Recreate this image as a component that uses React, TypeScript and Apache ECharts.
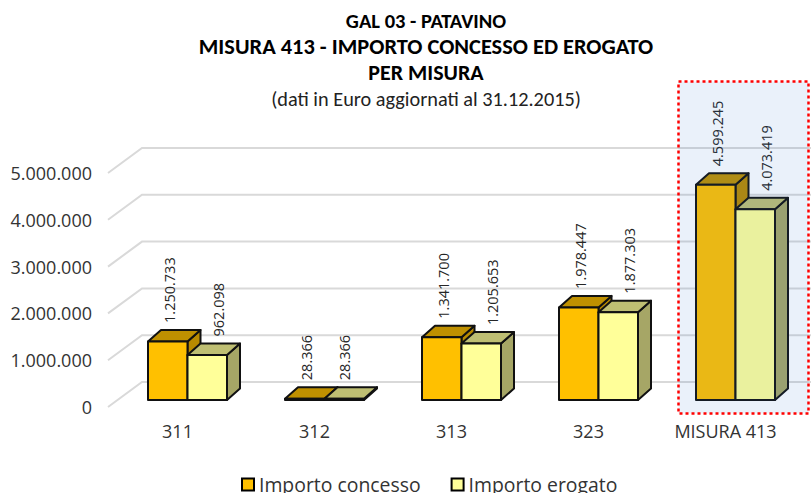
import React, { useEffect, useRef } from "react";
import * as echarts from "echarts";

const categories = ["311", "312", "313", "323", "MISURA 413"];
const concesso = [1250733, 28366, 1341700, 1978447, 4599245];
const erogato = [962098, 28366, 1205653, 1877303, 4073419];
const yTicks = [0, 1000000, 2000000, 3000000, 4000000, 5000000];
const titleLines = ["GAL 03 - PATAVINO", "MISURA 413 - IMPORTO CONCESSO ED EROGATO", "PER MISURA"];
const subtitle = "(dati in Euro aggiornati al 31.12.2015)";
const seriesNames = ["Importo concesso", "Importo erogato"];

const fmt = (v: number) => String(v).replace(/\B(?=(\d{3})+(?!\d))/g, ".");
const SANS = "'Open Sans', sans-serif";
const TITLE = "Carlito, Lato, sans-serif";
const BAR_W = 39.5;
const DX = 13;
const DY = 11.5;
const SHIFT = 10;

const barSeries = (name: string, data: number[], idx: number, front: string, top: string, side: string) => ({
  type: "custom",
  name,
  z: 5,
  itemStyle: { color: front },
  data: data.map((v, i) => [i, v]),
  encode: { x: 0, y: 1 },
  clip: false,
  renderItem: (_p: any, api: any) => {
    const v = api.value(1);
    const [cx, yt] = api.coord([api.value(0), v]);
    const [, y0] = api.coord([api.value(0), 0]);
    const xc = cx + SHIFT;
    const xl = xc + (idx === 0 ? -BAR_W : 0);
    const xr = xl + BAR_W;
    const line = { stroke: "#111", lineWidth: 2, lineJoin: "round" };
    const labelX = xl + BAR_W / 2 + (idx === 1 && v > 100000 ? 11 : 0) + (idx === 0 ? 2 : 0);
    return {
      type: "group",
      children: [
        { type: "polygon", shape: { points: [[xr, yt], [xr + DX, yt - DY], [xr + DX, y0 - DY], [xr, y0]] }, style: { fill: side, ...line } },
        { type: "polygon", shape: { points: [[xl, yt], [xl + DX, yt - DY], [xr + DX, yt - DY], [xr, yt]] }, style: { fill: top, ...line } },
        { type: "rect", shape: { x: xl, y: yt, width: BAR_W, height: y0 - yt }, style: { fill: front, ...line } },
        {
          type: "text",
          x: labelX,
          y: yt - DY - 7,
          rotation: Math.PI / 2,
          style: { text: fmt(v), fontFamily: SANS, fontSize: 14.5, fill: "#262626", textAlign: "left", textVerticalAlign: "middle" },
        },
      ],
    };
  },
});

export default function App() {
  const ref = useRef<HTMLDivElement>(null);
  useEffect(() => {
    const chart = echarts.init(ref.current!, undefined, { renderer: "svg" });
    const titleStyle = { fontFamily: TITLE, fontWeight: "bold" as const, color: "#000" };
    chart.setOption({
      animation: false,
      backgroundColor: "#fff",
      title: [
        { text: titleLines[0], left: 421, top: 5, textAlign: "center", padding: 5, textStyle: { ...titleStyle, fontSize: 20.5 } },
        { text: titleLines[1], left: 421, top: 30, textAlign: "center", padding: 5, textStyle: { ...titleStyle, fontSize: 22.4 } },
        { text: titleLines[2], left: 421, top: 56, textAlign: "center", padding: 5, textStyle: { ...titleStyle, fontSize: 22 } },
        { text: subtitle, left: 421, top: 84, textAlign: "center", padding: 5, textStyle: { fontFamily: TITLE, fontWeight: "normal", color: "#222", fontSize: 20.3 } },
      ],
      grid: { left: 109, top: 166, width: 685, height: 234 },
      xAxis: {
        type: "category",
        data: categories,
        axisLine: { show: false },
        axisTick: { show: false },
        axisLabel: { margin: 22, fontFamily: SANS, fontSize: 18, color: "#333" },
      },
      yAxis: {
        type: "value",
        min: 0,
        max: 5000000,
        interval: 1000000,
        splitLine: { show: false },
        axisLine: { show: false },
        axisTick: { show: false },
        axisLabel: {
          margin: 17,
          fontFamily: SANS,
          fontSize: 18,
          color: "#333",
          verticalAlign: "top",
          lineHeight: 14,
          formatter: (v: number) => fmt(v),
        },
      },
      legend: {
        left: 241,
        top: 475,
        padding: 0,
        itemWidth: 12,
        itemHeight: 12,
        itemGap: 30,
        icon: "rect",
        data: seriesNames,
        itemStyle: { borderColor: "#000", borderWidth: 2 },
        textStyle: { fontFamily: SANS, fontSize: 19.4, color: "#333" },
      },
      series: [
        {
          type: "custom",
          name: "griglia",
          silent: true,
          z: 1,
          clip: false,
          data: yTicks.map((t) => [0, t]),
          encode: { x: 0, y: 1 },
          renderItem: (_p: any, api: any) => {
            const [, y] = api.coord([0, api.value(1)]);
            return {
              type: "polyline",
              shape: { points: [[108, y + 7], [142, y - 18], [api.getWidth(), y - 18]] },
              style: { stroke: "#D9D9D9", lineWidth: 2, fill: "none" },
            };
          },
        },
        barSeries(seriesNames[0], concesso, 0, "#FFC000", "#BF9000", "#B88A00"),
        barSeries(seriesNames[1], erogato, 1, "#FFFF99", "#BFBF73", "#A6A666"),
      ],
      graphic: [
        {
          type: "rect",
          z: 100,
          silent: true,
          shape: { x: 678.5, y: 81.5, width: 130, height: 332 },
          style: { fill: "rgba(51,122,204,0.1)", stroke: "#FF0000", lineWidth: 2.5, lineDash: [3, 3] },
        },
      ],
    });
    return () => chart.dispose();
  }, []);
  return <div ref={ref} style={{ position: "absolute", left: 0, top: 0, width: 811, height: 493 }} />;
}
